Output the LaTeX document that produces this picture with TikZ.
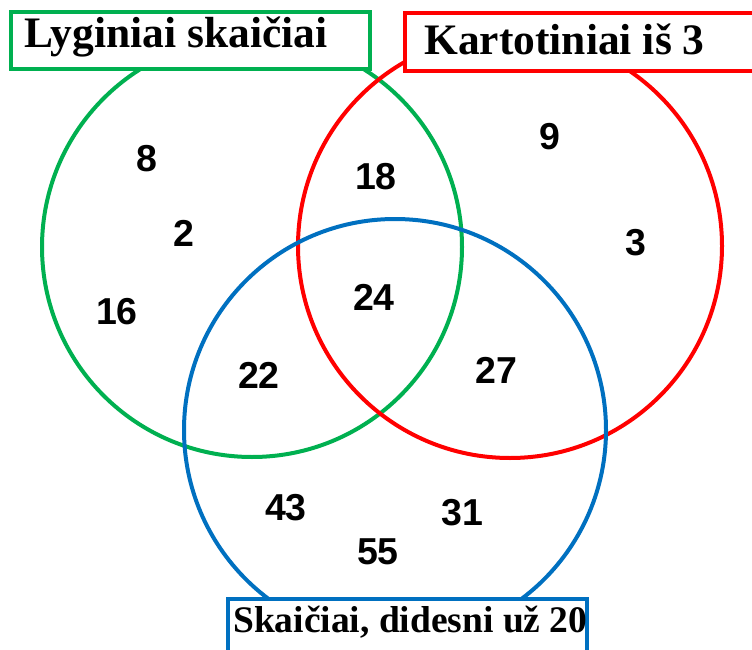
\documentclass[tikz,border=0pt]{standalone}
\usepackage{fontspec}
\setmainfont{Liberation Serif}
\newfontfamily\numfont{Liberation Sans}
\definecolor{vgreen}{RGB}{0,176,80}
\definecolor{vred}{RGB}{255,0,0}
\definecolor{vblue}{RGB}{0,112,192}
\tikzset{
  setcircle/.style={line width=4pt},
  labelbox/.style={line width=3.6pt, fill=white},
  labeltext/.style={anchor=base west, inner sep=0pt, font=\bfseries\fontsize{43.5}{48}\selectfont},
  num/.style={inner sep=0pt, font=\numfont\bfseries\fontsize{37.5}{40}\selectfont},
}
\begin{document}
\begin{tikzpicture}[x=1pt,y=-1pt]
\useasboundingbox (0,0) rectangle (752,650);
\clip (0,0) rectangle (752,650);
% circles
\draw[setcircle, vgreen] (252,247) circle (210);
\draw[setcircle, vred] (510,246) circle (212);
\draw[setcircle, vblue] (395,430) circle (211);
% label boxes
\draw[labelbox, draw=vgreen] (11,12) rectangle (370,69);
\draw[labelbox, draw=vred] (405,13) rectangle (770,71);
\draw[labelbox, draw=vblue] (228,599) rectangle (587,670);
\node[labeltext] (lg) at (24,48) {Lyginiai skaičiai};
\node[labeltext] (lr) at (424,55) {Kartotiniai iš 3};
\node[labeltext, font=\bfseries\fontsize{37.5}{42}\selectfont] (lb) at (233,632) {Skaičiai, didesni už 20};
% numbers
\node[num] (n8) at (147,159) {8};
\node[num] (n2) at (184,233) {2};
\node[num] (n16) at (117,312) {16};
\node[num] (n18) at (376,177) {18};
\node[num] (n24) at (374,297) {24};
\node[num] (n22) at (259,375) {22};
\node[num] (n9) at (550,137) {9};
\node[num] (n3) at (636,243) {3};
\node[num] (n27) at (496,370) {27};
\node[num] (n43) at (286,508) {43};
\node[num] (n31) at (462,513) {31};
\node[num] (n55) at (378,552) {55};
\end{tikzpicture}
\end{document}
